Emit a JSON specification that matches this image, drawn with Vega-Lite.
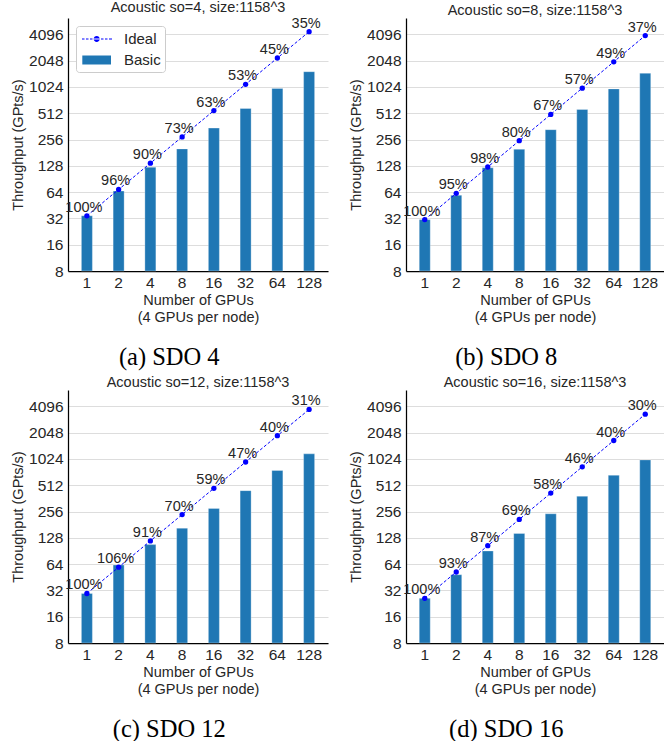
{
  "$schema": "https://vega.github.io/schema/vega-lite/v6.json",
  "padding": {"left": 10, "top": 0, "right": 0, "bottom": 0},
  "background": "white",
  "datasets": {
    "perf": [
      {"panel": "a", "gpus": 1, "basic": 34.3, "ideal": 34.3, "eff": "100%"},
      {"panel": "a", "gpus": 2, "basic": 65.9, "ideal": 68.6, "eff": "96%"},
      {"panel": "a", "gpus": 4, "basic": 123.5, "ideal": 137.2, "eff": "90%"},
      {"panel": "a", "gpus": 8, "basic": 200, "ideal": 274.4, "eff": "73%"},
      {"panel": "a", "gpus": 16, "basic": 346, "ideal": 548.8, "eff": "63%"},
      {"panel": "a", "gpus": 32, "basic": 580, "ideal": 1097.6, "eff": "53%"},
      {"panel": "a", "gpus": 64, "basic": 985, "ideal": 2195, "eff": "45%"},
      {"panel": "a", "gpus": 128, "basic": 1530, "ideal": 4390, "eff": "35%"},
      {"panel": "b", "gpus": 1, "basic": 31, "ideal": 31, "eff": "100%"},
      {"panel": "b", "gpus": 2, "basic": 58.9, "ideal": 62, "eff": "95%"},
      {"panel": "b", "gpus": 4, "basic": 121.5, "ideal": 124, "eff": "98%"},
      {"panel": "b", "gpus": 8, "basic": 198, "ideal": 248, "eff": "80%"},
      {"panel": "b", "gpus": 16, "basic": 332, "ideal": 496, "eff": "67%"},
      {"panel": "b", "gpus": 32, "basic": 565, "ideal": 992, "eff": "57%"},
      {"panel": "b", "gpus": 64, "basic": 972, "ideal": 1984, "eff": "49%"},
      {"panel": "b", "gpus": 128, "basic": 1468, "ideal": 3968, "eff": "37%"},
      {"panel": "c", "gpus": 1, "basic": 29.5, "ideal": 29.5, "eff": "100%"},
      {"panel": "c", "gpus": 2, "basic": 62.5, "ideal": 59, "eff": "106%"},
      {"panel": "c", "gpus": 4, "basic": 107, "ideal": 118, "eff": "91%"},
      {"panel": "c", "gpus": 8, "basic": 165, "ideal": 236, "eff": "70%"},
      {"panel": "c", "gpus": 16, "basic": 278, "ideal": 472, "eff": "59%"},
      {"panel": "c", "gpus": 32, "basic": 444, "ideal": 944, "eff": "47%"},
      {"panel": "c", "gpus": 64, "basic": 755, "ideal": 1888, "eff": "40%"},
      {"panel": "c", "gpus": 128, "basic": 1170, "ideal": 3776, "eff": "31%"},
      {"panel": "d", "gpus": 1, "basic": 26, "ideal": 26, "eff": "100%"},
      {"panel": "d", "gpus": 2, "basic": 48.4, "ideal": 52, "eff": "93%"},
      {"panel": "d", "gpus": 4, "basic": 90.5, "ideal": 104, "eff": "87%"},
      {"panel": "d", "gpus": 8, "basic": 143.5, "ideal": 208, "eff": "69%"},
      {"panel": "d", "gpus": 16, "basic": 241, "ideal": 416, "eff": "58%"},
      {"panel": "d", "gpus": 32, "basic": 383, "ideal": 832, "eff": "46%"},
      {"panel": "d", "gpus": 64, "basic": 666, "ideal": 1664, "eff": "40%"},
      {"panel": "d", "gpus": 128, "basic": 998, "ideal": 3328, "eff": "30%"}
    ]
  },
  "config": {
    "view": {"stroke": null},
    "font": "Liberation Sans",
    "title": {"font": "Liberation Sans", "fontSize": 14.5, "fontWeight": "normal", "color": "#262626", "offset": 0},
    "axis": {
      "labelFont": "Liberation Sans", "titleFont": "Liberation Sans",
      "labelColor": "#262626", "titleColor": "#262626",
      "labelFontSize": 15.5, "titleFontSize": 14.5, "titleFontWeight": "normal",
      "domainColor": "black", "domainWidth": 1.25, "ticks": false,
      "gridColor": "#dddddd", "gridWidth": 1
    },
    "axisX": {"grid": false, "labelPadding": 4, "titlePadding": 3, "titleLineHeight": 17, "labelAngle": 0},
    "axisY": {"labelPadding": 5, "titlePadding": 3, "grid": true},
    "legend": {
      "title": null, "orient": "top-left", "offset": 8, "padding": 4,
      "strokeColor": "#cccccc", "fillColor": "white", "cornerRadius": 3,
      "labelFont": "Liberation Sans", "labelFontSize": 15, "labelColor": "#262626",
      "labelOffset": 26, "rowPadding": 4, "symbolSize": 324
    }
  },
  "spacing": 5,
  "vconcat": [
    {
      "spacing": 20,
      "hconcat": [
        {
          "title": {"text": "(a) SDO 4", "orient": "bottom", "anchor": "middle", "font": "Liberation Serif", "fontSize": 24.5, "fontWeight": "normal", "color": "black", "offset": 21.5},
          "vconcat": [
            {
              "width": 260, "height": 253,
              "title": {"text": "Acoustic so=4, size:1158^3", "fontSize": 14.5, "font": "Liberation Sans", "fontWeight": "normal", "color": "#262626", "offset": 0, "anchor": "middle", "frame": "group"},
              "data": {"name": "perf"},
              "transform": [{"filter": "datum.panel === 'a'"}],
              "encoding": {
                "x": {"field": "gpus", "type": "ordinal", "scale": {"paddingInner": 0.65, "paddingOuter": 0.42}, "axis": {"title": ["Number of GPUs", "(4 GPUs per node)"]}}
              },
              "layer": [
                {
                  "mark": {"type": "bar", "size": 11, "stroke": "white", "strokeWidth": 0.5, "strokeOpacity": 0.6, "color": "#1f77b4"},
                  "encoding": {
                    "y": {"field": "basic", "type": "quantitative", "title": "Throughput (GPts/s)", "scale": {"type": "log", "base": 2, "domain": [8, 6300], "nice": false, "zero": false}, "axis": {"values": [8, 16, 32, 64, 128, 256, 512, 1024, 2048, 4096], "format": "d"}},
                    "y2": {"datum": 8},
                    "color": {"datum": "Basic", "type": "nominal", "scale": {"domain": ["Ideal", "Basic"], "range": ["#0000ff", "#1f77b4"]},
                      "legend": {"encode": {"symbols": {"update": {
                        "shape": {"signal": "datum.value === 'Ideal' ? 'M-0.778,-0.06H-0.5V0.06H-0.778Z M-0.333,-0.06H-0.056V0.06H-0.333Z M0.111,-0.06H0.389V0.06H0.111Z M0.556,-0.06H1.167V0.06H0.556Z M1.333,-0.06H1.611V0.06H1.333Z M1.778,-0.06H2.056V0.06H1.778Z M2.222,-0.06H2.556V0.06H2.222Z M0.526,0 A0.33,0.33 0 1,0 1.186,0 A0.33,0.33 0 1,0 0.526,0Z' : 'M-0.744,-0.5H2.444V0.5H-0.744Z'"},
                        "fill": {"signal": "datum.value === 'Ideal' ? '#0000ff' : '#1f77b4'"},
                        "stroke": {"value": "transparent"}, "strokeWidth": {"value": 0}, "opacity": {"value": 1}, "fillOpacity": {"value": 1}, "size": {"value": 324}
                      }}}}}
                  }
                },
                {
                  "mark": {"type": "line", "strokeDash": [3, 2], "strokeWidth": 1},
                  "encoding": {"y": {"field": "ideal", "type": "quantitative", "title": "Throughput (GPts/s)"}, "color": {"datum": "Ideal", "type": "nominal",
                      "legend": {"encode": {"symbols": {"update": {
                        "shape": {"signal": "datum.value === 'Ideal' ? 'M-0.778,-0.06H-0.5V0.06H-0.778Z M-0.333,-0.06H-0.056V0.06H-0.333Z M0.111,-0.06H0.389V0.06H0.111Z M0.556,-0.06H1.167V0.06H0.556Z M1.333,-0.06H1.611V0.06H1.333Z M1.778,-0.06H2.056V0.06H1.778Z M2.222,-0.06H2.556V0.06H2.222Z M0.526,0 A0.33,0.33 0 1,0 1.186,0 A0.33,0.33 0 1,0 0.526,0Z' : 'M-0.744,-0.5H2.444V0.5H-0.744Z'"},
                        "fill": {"signal": "datum.value === 'Ideal' ? '#0000ff' : '#1f77b4'"},
                        "stroke": {"value": "transparent"}, "strokeWidth": {"value": 0}, "opacity": {"value": 1}, "fillOpacity": {"value": 1}, "size": {"value": 324}
                      }}}}}}
                },
                {
                  "mark": {"type": "point", "filled": true, "size": 28, "opacity": 1},
                  "encoding": {"y": {"field": "ideal", "type": "quantitative", "title": "Throughput (GPts/s)"}, "color": {"datum": "Ideal", "type": "nominal",
                      "legend": {"encode": {"symbols": {"update": {
                        "shape": {"signal": "datum.value === 'Ideal' ? 'M-0.778,-0.06H-0.5V0.06H-0.778Z M-0.333,-0.06H-0.056V0.06H-0.333Z M0.111,-0.06H0.389V0.06H0.111Z M0.556,-0.06H1.167V0.06H0.556Z M1.333,-0.06H1.611V0.06H1.333Z M1.778,-0.06H2.056V0.06H1.778Z M2.222,-0.06H2.556V0.06H2.222Z M0.526,0 A0.33,0.33 0 1,0 1.186,0 A0.33,0.33 0 1,0 0.526,0Z' : 'M-0.744,-0.5H2.444V0.5H-0.744Z'"},
                        "fill": {"signal": "datum.value === 'Ideal' ? '#0000ff' : '#1f77b4'"},
                        "stroke": {"value": "transparent"}, "strokeWidth": {"value": 0}, "opacity": {"value": 1}, "fillOpacity": {"value": 1}, "size": {"value": 324}
                      }}}}}}
                },
                {
                  "mark": {"type": "text", "fontSize": 14.5, "dx": -3, "dy": -4, "baseline": "alphabetic", "align": "center", "color": "#262626", "font": "Liberation Sans"},
                  "encoding": {"y": {"field": "ideal", "type": "quantitative", "title": "Throughput (GPts/s)"}, "text": {"field": "eff"}}
                }
              ]
            }
          ]
        },
        {
          "title": {"text": "(b) SDO 8", "orient": "bottom", "anchor": "middle", "font": "Liberation Serif", "fontSize": 24.5, "fontWeight": "normal", "color": "black", "offset": 21.5},
          "vconcat": [
            {
              "width": 258, "height": 253,
              "title": {"text": "Acoustic so=8, size:1158^3", "fontSize": 14.5, "font": "Liberation Sans", "fontWeight": "normal", "color": "#262626", "offset": 0, "anchor": "middle", "frame": "group"},
              "data": {"name": "perf"},
              "transform": [{"filter": "datum.panel === 'b'"}],
              "encoding": {
                "x": {"field": "gpus", "type": "ordinal", "scale": {"paddingInner": 0.65, "paddingOuter": 0.42}, "axis": {"title": ["Number of GPUs", "(4 GPUs per node)"]}}
              },
              "layer": [
                {
                  "mark": {"type": "bar", "size": 11, "stroke": "white", "strokeWidth": 0.5, "strokeOpacity": 0.6, "color": "#1f77b4"},
                  "encoding": {
                    "y": {"field": "basic", "type": "quantitative", "title": "Throughput (GPts/s)", "scale": {"type": "log", "base": 2, "domain": [8, 6300], "nice": false, "zero": false}, "axis": {"values": [8, 16, 32, 64, 128, 256, 512, 1024, 2048, 4096], "format": "d"}},
                    "y2": {"datum": 8},
                    "color": {"datum": "Basic", "type": "nominal", "scale": {"domain": ["Ideal", "Basic"], "range": ["#0000ff", "#1f77b4"]},
                      "legend": {"encode": {"symbols": {"update": {
                        "shape": {"signal": "datum.value === 'Ideal' ? 'M-0.778,-0.06H-0.5V0.06H-0.778Z M-0.333,-0.06H-0.056V0.06H-0.333Z M0.111,-0.06H0.389V0.06H0.111Z M0.556,-0.06H1.167V0.06H0.556Z M1.333,-0.06H1.611V0.06H1.333Z M1.778,-0.06H2.056V0.06H1.778Z M2.222,-0.06H2.556V0.06H2.222Z M0.526,0 A0.33,0.33 0 1,0 1.186,0 A0.33,0.33 0 1,0 0.526,0Z' : 'M-0.744,-0.5H2.444V0.5H-0.744Z'"},
                        "fill": {"signal": "datum.value === 'Ideal' ? '#0000ff' : '#1f77b4'"},
                        "stroke": {"value": "transparent"}, "strokeWidth": {"value": 0}, "opacity": {"value": 1}, "fillOpacity": {"value": 1}, "size": {"value": 324}
                      }}}}}
                  }
                },
                {
                  "mark": {"type": "line", "strokeDash": [3, 2], "strokeWidth": 1},
                  "encoding": {"y": {"field": "ideal", "type": "quantitative", "title": "Throughput (GPts/s)"}, "color": {"datum": "Ideal", "type": "nominal",
                      "legend": {"encode": {"symbols": {"update": {
                        "shape": {"signal": "datum.value === 'Ideal' ? 'M-0.778,-0.06H-0.5V0.06H-0.778Z M-0.333,-0.06H-0.056V0.06H-0.333Z M0.111,-0.06H0.389V0.06H0.111Z M0.556,-0.06H1.167V0.06H0.556Z M1.333,-0.06H1.611V0.06H1.333Z M1.778,-0.06H2.056V0.06H1.778Z M2.222,-0.06H2.556V0.06H2.222Z M0.526,0 A0.33,0.33 0 1,0 1.186,0 A0.33,0.33 0 1,0 0.526,0Z' : 'M-0.744,-0.5H2.444V0.5H-0.744Z'"},
                        "fill": {"signal": "datum.value === 'Ideal' ? '#0000ff' : '#1f77b4'"},
                        "stroke": {"value": "transparent"}, "strokeWidth": {"value": 0}, "opacity": {"value": 1}, "fillOpacity": {"value": 1}, "size": {"value": 324}
                      }}}}}}
                },
                {
                  "mark": {"type": "point", "filled": true, "size": 28, "opacity": 1},
                  "encoding": {"y": {"field": "ideal", "type": "quantitative", "title": "Throughput (GPts/s)"}, "color": {"datum": "Ideal", "type": "nominal",
                      "legend": {"encode": {"symbols": {"update": {
                        "shape": {"signal": "datum.value === 'Ideal' ? 'M-0.778,-0.06H-0.5V0.06H-0.778Z M-0.333,-0.06H-0.056V0.06H-0.333Z M0.111,-0.06H0.389V0.06H0.111Z M0.556,-0.06H1.167V0.06H0.556Z M1.333,-0.06H1.611V0.06H1.333Z M1.778,-0.06H2.056V0.06H1.778Z M2.222,-0.06H2.556V0.06H2.222Z M0.526,0 A0.33,0.33 0 1,0 1.186,0 A0.33,0.33 0 1,0 0.526,0Z' : 'M-0.744,-0.5H2.444V0.5H-0.744Z'"},
                        "fill": {"signal": "datum.value === 'Ideal' ? '#0000ff' : '#1f77b4'"},
                        "stroke": {"value": "transparent"}, "strokeWidth": {"value": 0}, "opacity": {"value": 1}, "fillOpacity": {"value": 1}, "size": {"value": 324}
                      }}}}}}
                },
                {
                  "mark": {"type": "text", "fontSize": 14.5, "dx": -3, "dy": -4, "baseline": "alphabetic", "align": "center", "color": "#262626", "font": "Liberation Sans"},
                  "encoding": {"y": {"field": "ideal", "type": "quantitative", "title": "Throughput (GPts/s)"}, "text": {"field": "eff"}}
                }
              ]
            }
          ]
        }
      ]
    },
    {
      "spacing": 20,
      "hconcat": [
        {
          "title": {"text": "(c) SDO 12", "orient": "bottom", "anchor": "middle", "font": "Liberation Serif", "fontSize": 24.5, "fontWeight": "normal", "color": "black", "offset": 21.5},
          "vconcat": [
            {
              "width": 260, "height": 253,
              "title": {"text": "Acoustic so=12, size:1158^3", "fontSize": 14.5, "font": "Liberation Sans", "fontWeight": "normal", "color": "#262626", "offset": 0, "anchor": "middle", "frame": "group"},
              "data": {"name": "perf"},
              "transform": [{"filter": "datum.panel === 'c'"}],
              "encoding": {
                "x": {"field": "gpus", "type": "ordinal", "scale": {"paddingInner": 0.65, "paddingOuter": 0.42}, "axis": {"title": ["Number of GPUs", "(4 GPUs per node)"]}}
              },
              "layer": [
                {
                  "mark": {"type": "bar", "size": 11, "stroke": "white", "strokeWidth": 0.5, "strokeOpacity": 0.6, "color": "#1f77b4"},
                  "encoding": {
                    "y": {"field": "basic", "type": "quantitative", "title": "Throughput (GPts/s)", "scale": {"type": "log", "base": 2, "domain": [8, 6300], "nice": false, "zero": false}, "axis": {"values": [8, 16, 32, 64, 128, 256, 512, 1024, 2048, 4096], "format": "d"}},
                    "y2": {"datum": 8},
                    "color": {"datum": "Basic", "type": "nominal", "scale": {"domain": ["Ideal", "Basic"], "range": ["#0000ff", "#1f77b4"]},
                      "legend": {"encode": {"symbols": {"update": {
                        "shape": {"signal": "datum.value === 'Ideal' ? 'M-0.778,-0.06H-0.5V0.06H-0.778Z M-0.333,-0.06H-0.056V0.06H-0.333Z M0.111,-0.06H0.389V0.06H0.111Z M0.556,-0.06H1.167V0.06H0.556Z M1.333,-0.06H1.611V0.06H1.333Z M1.778,-0.06H2.056V0.06H1.778Z M2.222,-0.06H2.556V0.06H2.222Z M0.526,0 A0.33,0.33 0 1,0 1.186,0 A0.33,0.33 0 1,0 0.526,0Z' : 'M-0.744,-0.5H2.444V0.5H-0.744Z'"},
                        "fill": {"signal": "datum.value === 'Ideal' ? '#0000ff' : '#1f77b4'"},
                        "stroke": {"value": "transparent"}, "strokeWidth": {"value": 0}, "opacity": {"value": 1}, "fillOpacity": {"value": 1}, "size": {"value": 324}
                      }}}}}
                  }
                },
                {
                  "mark": {"type": "line", "strokeDash": [3, 2], "strokeWidth": 1},
                  "encoding": {"y": {"field": "ideal", "type": "quantitative", "title": "Throughput (GPts/s)"}, "color": {"datum": "Ideal", "type": "nominal",
                      "legend": {"encode": {"symbols": {"update": {
                        "shape": {"signal": "datum.value === 'Ideal' ? 'M-0.778,-0.06H-0.5V0.06H-0.778Z M-0.333,-0.06H-0.056V0.06H-0.333Z M0.111,-0.06H0.389V0.06H0.111Z M0.556,-0.06H1.167V0.06H0.556Z M1.333,-0.06H1.611V0.06H1.333Z M1.778,-0.06H2.056V0.06H1.778Z M2.222,-0.06H2.556V0.06H2.222Z M0.526,0 A0.33,0.33 0 1,0 1.186,0 A0.33,0.33 0 1,0 0.526,0Z' : 'M-0.744,-0.5H2.444V0.5H-0.744Z'"},
                        "fill": {"signal": "datum.value === 'Ideal' ? '#0000ff' : '#1f77b4'"},
                        "stroke": {"value": "transparent"}, "strokeWidth": {"value": 0}, "opacity": {"value": 1}, "fillOpacity": {"value": 1}, "size": {"value": 324}
                      }}}}}}
                },
                {
                  "mark": {"type": "point", "filled": true, "size": 28, "opacity": 1},
                  "encoding": {"y": {"field": "ideal", "type": "quantitative", "title": "Throughput (GPts/s)"}, "color": {"datum": "Ideal", "type": "nominal",
                      "legend": {"encode": {"symbols": {"update": {
                        "shape": {"signal": "datum.value === 'Ideal' ? 'M-0.778,-0.06H-0.5V0.06H-0.778Z M-0.333,-0.06H-0.056V0.06H-0.333Z M0.111,-0.06H0.389V0.06H0.111Z M0.556,-0.06H1.167V0.06H0.556Z M1.333,-0.06H1.611V0.06H1.333Z M1.778,-0.06H2.056V0.06H1.778Z M2.222,-0.06H2.556V0.06H2.222Z M0.526,0 A0.33,0.33 0 1,0 1.186,0 A0.33,0.33 0 1,0 0.526,0Z' : 'M-0.744,-0.5H2.444V0.5H-0.744Z'"},
                        "fill": {"signal": "datum.value === 'Ideal' ? '#0000ff' : '#1f77b4'"},
                        "stroke": {"value": "transparent"}, "strokeWidth": {"value": 0}, "opacity": {"value": 1}, "fillOpacity": {"value": 1}, "size": {"value": 324}
                      }}}}}}
                },
                {
                  "mark": {"type": "text", "fontSize": 14.5, "dx": -3, "dy": -4, "baseline": "alphabetic", "align": "center", "color": "#262626", "font": "Liberation Sans"},
                  "encoding": {"y": {"field": "ideal", "type": "quantitative", "title": "Throughput (GPts/s)"}, "text": {"field": "eff"}}
                }
              ]
            }
          ]
        },
        {
          "title": {"text": "(d) SDO 16", "orient": "bottom", "anchor": "middle", "font": "Liberation Serif", "fontSize": 24.5, "fontWeight": "normal", "color": "black", "offset": 21.5},
          "vconcat": [
            {
              "width": 258, "height": 253,
              "title": {"text": "Acoustic so=16, size:1158^3", "fontSize": 14.5, "font": "Liberation Sans", "fontWeight": "normal", "color": "#262626", "offset": 0, "anchor": "middle", "frame": "group"},
              "data": {"name": "perf"},
              "transform": [{"filter": "datum.panel === 'd'"}],
              "encoding": {
                "x": {"field": "gpus", "type": "ordinal", "scale": {"paddingInner": 0.65, "paddingOuter": 0.42}, "axis": {"title": ["Number of GPUs", "(4 GPUs per node)"]}}
              },
              "layer": [
                {
                  "mark": {"type": "bar", "size": 11, "stroke": "white", "strokeWidth": 0.5, "strokeOpacity": 0.6, "color": "#1f77b4"},
                  "encoding": {
                    "y": {"field": "basic", "type": "quantitative", "title": "Throughput (GPts/s)", "scale": {"type": "log", "base": 2, "domain": [8, 6300], "nice": false, "zero": false}, "axis": {"values": [8, 16, 32, 64, 128, 256, 512, 1024, 2048, 4096], "format": "d"}},
                    "y2": {"datum": 8},
                    "color": {"datum": "Basic", "type": "nominal", "scale": {"domain": ["Ideal", "Basic"], "range": ["#0000ff", "#1f77b4"]},
                      "legend": {"encode": {"symbols": {"update": {
                        "shape": {"signal": "datum.value === 'Ideal' ? 'M-0.778,-0.06H-0.5V0.06H-0.778Z M-0.333,-0.06H-0.056V0.06H-0.333Z M0.111,-0.06H0.389V0.06H0.111Z M0.556,-0.06H1.167V0.06H0.556Z M1.333,-0.06H1.611V0.06H1.333Z M1.778,-0.06H2.056V0.06H1.778Z M2.222,-0.06H2.556V0.06H2.222Z M0.526,0 A0.33,0.33 0 1,0 1.186,0 A0.33,0.33 0 1,0 0.526,0Z' : 'M-0.744,-0.5H2.444V0.5H-0.744Z'"},
                        "fill": {"signal": "datum.value === 'Ideal' ? '#0000ff' : '#1f77b4'"},
                        "stroke": {"value": "transparent"}, "strokeWidth": {"value": 0}, "opacity": {"value": 1}, "fillOpacity": {"value": 1}, "size": {"value": 324}
                      }}}}}
                  }
                },
                {
                  "mark": {"type": "line", "strokeDash": [3, 2], "strokeWidth": 1},
                  "encoding": {"y": {"field": "ideal", "type": "quantitative", "title": "Throughput (GPts/s)"}, "color": {"datum": "Ideal", "type": "nominal",
                      "legend": {"encode": {"symbols": {"update": {
                        "shape": {"signal": "datum.value === 'Ideal' ? 'M-0.778,-0.06H-0.5V0.06H-0.778Z M-0.333,-0.06H-0.056V0.06H-0.333Z M0.111,-0.06H0.389V0.06H0.111Z M0.556,-0.06H1.167V0.06H0.556Z M1.333,-0.06H1.611V0.06H1.333Z M1.778,-0.06H2.056V0.06H1.778Z M2.222,-0.06H2.556V0.06H2.222Z M0.526,0 A0.33,0.33 0 1,0 1.186,0 A0.33,0.33 0 1,0 0.526,0Z' : 'M-0.744,-0.5H2.444V0.5H-0.744Z'"},
                        "fill": {"signal": "datum.value === 'Ideal' ? '#0000ff' : '#1f77b4'"},
                        "stroke": {"value": "transparent"}, "strokeWidth": {"value": 0}, "opacity": {"value": 1}, "fillOpacity": {"value": 1}, "size": {"value": 324}
                      }}}}}}
                },
                {
                  "mark": {"type": "point", "filled": true, "size": 28, "opacity": 1},
                  "encoding": {"y": {"field": "ideal", "type": "quantitative", "title": "Throughput (GPts/s)"}, "color": {"datum": "Ideal", "type": "nominal",
                      "legend": {"encode": {"symbols": {"update": {
                        "shape": {"signal": "datum.value === 'Ideal' ? 'M-0.778,-0.06H-0.5V0.06H-0.778Z M-0.333,-0.06H-0.056V0.06H-0.333Z M0.111,-0.06H0.389V0.06H0.111Z M0.556,-0.06H1.167V0.06H0.556Z M1.333,-0.06H1.611V0.06H1.333Z M1.778,-0.06H2.056V0.06H1.778Z M2.222,-0.06H2.556V0.06H2.222Z M0.526,0 A0.33,0.33 0 1,0 1.186,0 A0.33,0.33 0 1,0 0.526,0Z' : 'M-0.744,-0.5H2.444V0.5H-0.744Z'"},
                        "fill": {"signal": "datum.value === 'Ideal' ? '#0000ff' : '#1f77b4'"},
                        "stroke": {"value": "transparent"}, "strokeWidth": {"value": 0}, "opacity": {"value": 1}, "fillOpacity": {"value": 1}, "size": {"value": 324}
                      }}}}}}
                },
                {
                  "mark": {"type": "text", "fontSize": 14.5, "dx": -3, "dy": -4, "baseline": "alphabetic", "align": "center", "color": "#262626", "font": "Liberation Sans"},
                  "encoding": {"y": {"field": "ideal", "type": "quantitative", "title": "Throughput (GPts/s)"}, "text": {"field": "eff"}}
                }
              ]
            }
          ]
        }
      ]
    }
  ]
}
